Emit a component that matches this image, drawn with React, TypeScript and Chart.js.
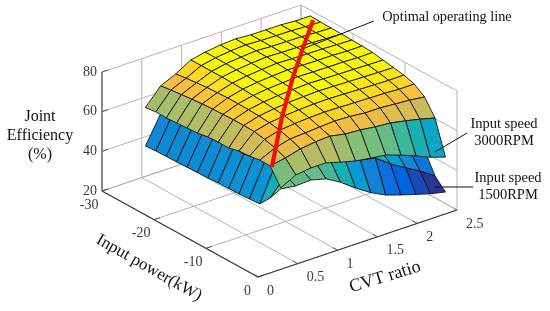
import React, { useEffect, useRef } from "react";
import { Chart, registerables } from "chart.js";

Chart.register(...registerables);

const powers = [-27, -25, -23, -21, -19, -17, -15, -13, -11, -9, -7, -5, -3, -1];
const cvts = [0.35, 0.54, 0.73, 0.92, 1.1, 1.29, 1.48, 1.67, 1.86, 2.05, 2.23, 2.42];

const eff3000 = [
  [61.7, 70, 73.5, 78, 79.5, 80.5, 81, 80.5, 80.4, 80.4, 79.9, 79.9],
  [62.4, 70.8, 74.2, 78, 79.5, 80.4, 80.9, 80.5, 80.4, 80.3, 79.9, 79.7],
  [62.2, 71.4, 74.8, 78, 79.4, 80.2, 80.8, 80.4, 80.3, 80.2, 79.8, 79.6],
  [62.6, 72, 75.3, 78, 79.2, 80, 80.6, 80.3, 80.2, 80.1, 79.7, 79.5],
  [62.9, 72.5, 75.6, 77.9, 79, 79.7, 80.3, 80, 79.9, 79.8, 79.5, 79.3],
  [63.3, 72.8, 75.8, 77.7, 78.7, 79.3, 79.8, 79.6, 79.5, 79.5, 79.2, 79.2],
  [64.2, 73, 75.8, 77.4, 78.3, 78.8, 79.3, 79.1, 79, 79, 78.7, 78.8],
  [64.5, 73.2, 75.7, 77, 77.8, 78.3, 78.7, 78.5, 78.3, 78.2, 78, 77.9],
  [64.4, 73.2, 75.4, 76.5, 77.2, 77.6, 77.9, 77.7, 77.5, 77.3, 77.1, 77],
  [65.8, 73, 74.9, 75.8, 76.4, 76.8, 76.9, 76.7, 76.4, 76.2, 76, 76.1],
  [66.1, 72, 74, 74.8, 75.3, 75.6, 75.4, 75.2, 75, 74.8, 74.4, 74.5],
  [67, 70.5, 72.5, 73, 73.5, 74, 73.7, 72.9, 72.9, 72.3, 71.8, 70.8],
  [66.9, 68.4, 70.4, 71.4, 71.8, 70.3, 69.8, 68.8, 68.2, 66.7, 65.1, 63.1],
  [58.7, 62.7, 63.7, 63.7, 61.6, 59.6, 58.5, 57.5, 54.9, 51.9, 48.8, 46.3],
];

const eff1500 = [
  [42.3, 55.9, 56, 60, 61.5, 62.5, 63, 62.5, 62.4, 62.4, 62, 62],
  [42.7, 56.8, 56.2, 60, 61.5, 62.4, 63, 62.5, 62.4, 62.3, 62, 61.7],
  [42.8, 56.7, 56.8, 60, 61.4, 62.2, 62.8, 62.4, 62.3, 62.2, 61.8, 61.6],
  [42.9, 57, 57.3, 60, 61.2, 62, 62.6, 62.3, 62.2, 62.1, 61.7, 61.5],
  [43.2, 57.3, 57.6, 59.9, 61, 61.7, 62.3, 62, 61.9, 61.8, 61.5, 61.3],
  [43.4, 57.8, 57.8, 59.7, 60.7, 61.3, 61.8, 61.6, 61.5, 61.5, 61.2, 61.2],
  [43.5, 58.6, 57.8, 59.4, 60.3, 60.8, 61.3, 61.1, 61, 61, 60.7, 60.8],
  [43.9, 59, 57.7, 59, 59.8, 60.3, 60.7, 60.5, 60.3, 60.2, 60, 59.9],
  [44, 58.8, 57.4, 58.5, 59.2, 59.6, 59.9, 59.7, 59.5, 59.3, 59.1, 59],
  [44.1, 60.2, 56.9, 57.8, 58.4, 58.8, 58.9, 58.7, 58.4, 58.2, 58, 58.1],
  [44.5, 60.6, 56, 56.8, 57.3, 57.6, 57.4, 57.2, 57, 56.8, 56.4, 56.5],
  [44.9, 61.5, 64.5, 61.9, 59.4, 56.8, 54.3, 54.2, 51.7, 49.1, 46.6, 44],
  [50.8, 59.3, 60.8, 60.8, 59.7, 57.2, 54.6, 53.1, 47.5, 43, 38.9, 33.9],
  [58.2, 57.2, 57.6, 55.6, 51.5, 46, 41.1, 37.3, 34.8, 32.5, 30.4, 28.7],
];

const optPower = [-26.4, -21, -15, -9, -3];
const optCvt = [2.417, 1.937, 1.42, 0.887, 0.37];
const optEff = [78.7, 79, 80, 75.2, 66.1];

const zTicks = [20, 40, 60, 80];
const powerTicks = [-30, -20, -10, 0];
const cvtTicks = [0, 0.5, 1, 1.5, 2, 2.5];

const parulaStops = [0, 0.11, 0.24, 0.365, 0.49, 0.62, 0.75, 0.875, 1];
const parulaColors = [
  [53, 42, 135], [3, 99, 225], [20, 128, 214], [5, 160, 210], [32, 180, 170],
  [135, 191, 119], [209, 187, 89], [252, 190, 60], [249, 248, 10],
];
const effMin = 29.5;
const effMax = 78;

const SERIF = '"Liberation Serif", "Times New Roman", serif';

function project(p: number, c: number, z: number) {
  const u = -p / 30;
  const v = c / 2.5;
  return {
    x: 258 - 156 * u + 199 * v,
    y: 277 - 86 * u - 67 * v - (119 / 60) * (z - 20),
  };
}

function parula(z: number) {
  const t = Math.min(1, Math.max(0, (z - effMin) / (effMax - effMin)));
  let k = 0;
  while (k < parulaStops.length - 2 && t > parulaStops[k + 1]) k++;
  const f = (t - parulaStops[k]) / (parulaStops[k + 1] - parulaStops[k]);
  const a = parulaColors[k];
  const b = parulaColors[k + 1];
  const m = [0, 1, 2].map((n) => Math.round(a[n] + (b[n] - a[n]) * f));
  return `rgb(${m[0]},${m[1]},${m[2]})`;
}

function surfaceDatasets(eff: number[][]) {
  const out: any[] = [];
  for (let i = 0; i < powers.length - 1; i++) {
    for (let j = cvts.length - 2; j >= 0; j--) {
      const data = [
        project(powers[i], cvts[j], eff[i][j]),
        project(powers[i], cvts[j + 1], eff[i][j + 1]),
        project(powers[i + 1], cvts[j + 1], eff[i + 1][j + 1]),
        project(powers[i + 1], cvts[j], eff[i + 1][j]),
        project(powers[i], cvts[j], eff[i][j]),
      ];
      out.push({
        type: "scatter",
        data,
        showLine: true,
        fill: "shape",
        backgroundColor: parula(eff[i + 1][j]),
        borderColor: "#141414",
        borderWidth: 0.9,
        pointRadius: 0,
        tension: 0,
        clip: false,
      });
    }
  }
  return out;
}

function line(data: { x: number; y: number }[], color: string, width: number) {
  return {
    type: "scatter",
    data,
    showLine: true,
    fill: false,
    borderColor: color,
    borderWidth: width,
    pointRadius: 0,
    tension: 0,
    clip: false,
  };
}

function boxDatasets() {
  const GRID = "#b4b4b4";
  const AXIS = "#555555";
  const out: any[] = [];
  const zMin = zTicks[0];
  const zMax = zTicks[zTicks.length - 1];
  const pMin = powerTicks[0];
  const pMax = powerTicks[powerTicks.length - 1];
  const cMin = cvtTicks[0];
  const cMax = cvtTicks[cvtTicks.length - 1];
  for (const c of cvtTicks) {
    out.push(line([project(pMin, c, zMin), project(pMax, c, zMin)], GRID, 1));
    out.push(line([project(pMin, c, zMin), project(pMin, c, zMax)], GRID, 1));
    out.push(line([project(pMax, c, zMin), project(pMax + (pMin - pMax) * 0.03, c, zMin)], AXIS, 1));
  }
  for (const p of powerTicks) {
    out.push(line([project(p, cMin, zMin), project(p, cMax, zMin)], GRID, 1));
    out.push(line([project(p, cMax, zMin), project(p, cMax, zMax)], GRID, 1));
    out.push(line([project(p, cMin, zMin), project(p, cMin + (cMax - cMin) * 0.03, zMin)], AXIS, 1));
  }
  for (const z of zTicks) {
    out.push(line([project(pMin, cMin, z), project(pMin, cMax, z)], GRID, 1));
    out.push(line([project(pMin, cMax, z), project(pMax, cMax, z)], GRID, 1));
    out.push(line([project(pMin, cMin, z), project(pMin, cMin + (cMax - cMin) * 0.03, z)], AXIS, 1));
  }
  out.push(line([project(pMin, cMin, zMin), project(pMin, cMin, zMax)], AXIS, 1.2));
  out.push(line([project(pMin, cMin, zMin), project(pMax, cMin, zMin)], "#3a3a3a", 1.2));
  out.push(line([project(pMax, cMin, zMin), project(pMax, cMax, zMin)], "#3a3a3a", 1.2));
  return out;
}

const leaders = [
  [{ x: 374, y: 21 }, { x: 305, y: 48 }],
  [{ x: 467, y: 133 }, { x: 435, y: 152 }],
  [{ x: 473, y: 187 }, { x: 435, y: 187 }],
];

const textPlugin = {
  id: "chartText",
  afterDatasetsDraw(chart: any) {
    const ctx = chart.ctx as CanvasRenderingContext2D;
    const sx = (v: number) => chart.scales.x.getPixelForValue(v);
    const sy = (v: number) => chart.scales.y.getPixelForValue(v);
    const put = (
      text: string, x: number, y: number, size: number, color: string,
      align: CanvasTextAlign = "center", angle = 0,
    ) => {
      ctx.save();
      ctx.translate(sx(x), sy(y));
      ctx.rotate((angle * Math.PI) / 180);
      ctx.font = `${size}px ${SERIF}`;
      ctx.fillStyle = color;
      ctx.textAlign = align;
      ctx.textBaseline = "middle";
      ctx.fillText(text, 0, 0);
      ctx.restore();
    };
    const TICK = "#3c3c3c";
    for (const z of zTicks) {
      const q = project(powerTicks[0], cvtTicks[0], z);
      put(String(z), q.x - 5, q.y, 14, TICK, "right");
    }
    for (const p of powerTicks) {
      const q = project(p, cvtTicks[0], zTicks[0]);
      put(String(p), q.x - (p === 0 ? 7 : 3.5), q.y + 14, 14, TICK, "right");
    }
    for (const c of cvtTicks) {
      const q = project(powerTicks[powerTicks.length - 1], c, zTicks[0]);
      put(String(c), q.x + 9, q.y + 14, 14, TICK, "left");
    }
    put("Joint", 40, 117, 16, "#111");
    put("Efficiency", 40, 136, 16, "#111");
    put("(%)", 40, 155, 16, "#111");
    put("Input power(kW)", 149, 268, 17, "#111", "center", 29.6);
    put("CVT ratio", 385, 277, 18, "#111", "center", -17);
    put("Optimal operating line", 447, 17, 14.3, "#111");
    put("Input speed", 504, 124, 14.5, "#111");
    put("3000RPM", 504, 141, 14.5, "#111");
    put("Input speed", 508, 178, 14.5, "#111");
    put("1500RPM", 508, 195, 14.5, "#111");
  },
};

export default function App() {
  const ref = useRef<HTMLCanvasElement>(null);
  useEffect(() => {
    document.body.style.margin = "0";
    const back = [...boxDatasets(), ...surfaceDatasets(eff1500), ...surfaceDatasets(eff3000)];
    const front = [
      line(optPower.map((p, k) => project(p, optCvt[k], optEff[k])), "#f01010", 4.2),
      ...leaders.map((l) => line(l, "#111", 1)),
    ];
    // Chart.js paints the last dataset first, so the list runs front to back.
    const datasets = [...front.reverse(), ...back.reverse()];
    const chart = new Chart(ref.current as HTMLCanvasElement, {
      type: "scatter",
      data: { datasets },
      options: {
        animation: false,
        responsive: false,
        events: [],
        layout: { padding: 0 },
        plugins: { legend: { display: false }, tooltip: { enabled: false }, title: { display: false } },
        scales: {
          x: { type: "linear", min: 0, max: 550, display: false },
          y: { type: "linear", min: 0, max: 311, reverse: true, display: false },
        },
      },
      plugins: [textPlugin],
    } as any);
    return () => chart.destroy();
  }, []);
  return <canvas ref={ref} width={550} height={311} style={{ display: "block" }} />;
}
